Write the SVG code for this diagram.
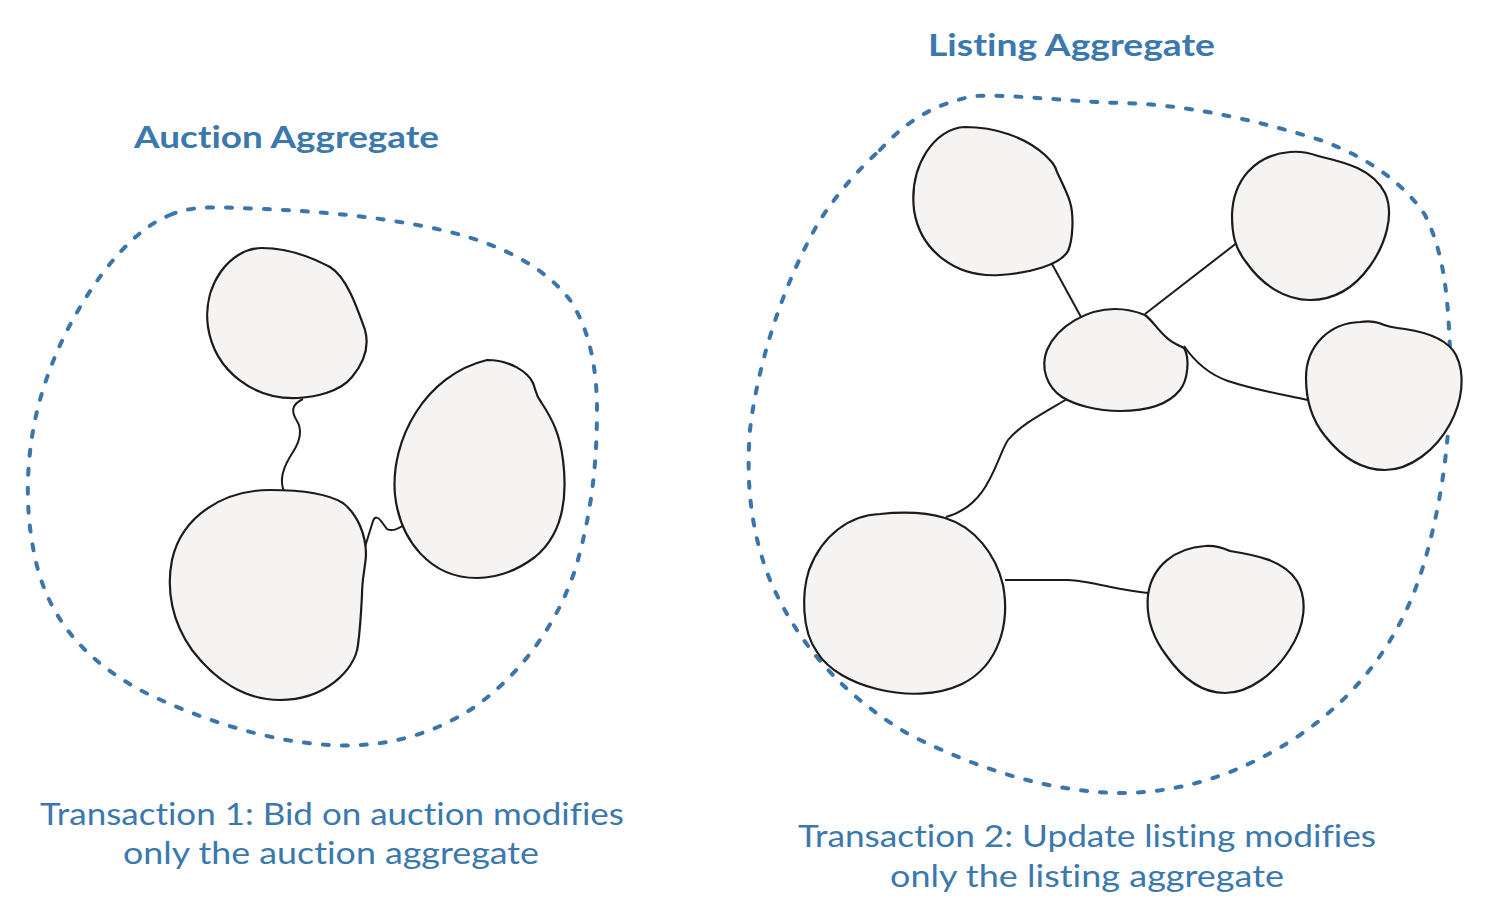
<svg xmlns="http://www.w3.org/2000/svg" width="1499" height="913" viewBox="0 0 1499 913">
<style>
.bound{fill:none;stroke:#3a75ab;stroke-width:4;stroke-dasharray:6 13;stroke-linecap:round}
.ent{fill:#f5f4f2;stroke:#1b1b1b;stroke-width:2.2;stroke-linejoin:round}
.link{fill:none;stroke:#1b1b1b;stroke-width:2}
.title{font-family:Lato,"Open Sans","Liberation Sans",sans-serif;font-weight:bold;font-size:30px;fill:#3b78ae;font-variant-ligatures:none;font-feature-settings:"liga" 0,"clig" 0,"dlig" 0}
.cap{font-family:Lato,"Open Sans","Liberation Sans",sans-serif;font-size:30px;fill:#3b78ae;font-variant-ligatures:none;font-feature-settings:"liga" 0,"clig" 0,"dlig" 0}
</style>
<rect width="1499" height="913" fill="#ffffff"/>

<g id="auction-aggregate">
<path class="bound" d="M 170,215 C 190,206 215,207 240,208 C 300,210 380,215 450,232 C 505,246 545,268 570,300 C 590,330 597,370 597,410 C 597,470 590,520 575,570 C 555,630 515,680 470,710 C 430,735 385,748 330,745 C 270,742 200,720 140,690 C 95,665 55,630 38,570 C 25,520 25,470 35,420 C 48,360 75,310 105,270 C 125,245 145,225 170,215 Z"/>
<text class="title" x="134" y="148" textLength="305" lengthAdjust="spacingAndGlyphs">Auction Aggregate</text>
</g>

<g id="listing-aggregate">
<path class="bound" d="M 880,150 C 905,122 935,103 975,96 C 1010,94 1060,101 1120,103 C 1180,104 1250,118 1320,140 C 1370,158 1405,185 1425,215 C 1445,255 1448,300 1450,350 C 1452,420 1445,490 1425,560 C 1405,630 1365,690 1300,735 C 1240,775 1180,793 1120,793 C 1050,792 980,770 910,735 C 850,700 800,650 770,580 C 750,530 746,480 750,430 C 758,360 785,280 820,220 C 840,190 860,168 880,150 Z"/>
<text class="title" x="928" y="56" textLength="287" lengthAdjust="spacingAndGlyphs">Listing Aggregate</text>
</g>

<g id="connectors">
<path class="link" d="M 303,399 C 290,405 292,413 297,421 C 303,431 300,441 293,452 C 285,464 278,478 284,491"/>
<path class="link" d="M 364,550 L 373,521 C 375,516 378,517 381,521 L 387,529 C 392,532 398,529 404,525"/>
<path class="link" d="M 1052,264 L 1081,317"/>
<path class="link" d="M 1145,314 L 1238,242"/>
<path class="link" d="M 1184,346 C 1195,362 1208,374 1228,381 C 1255,390 1280,394 1308,400"/>
<path class="link" d="M 1067,399 C 1045,412 1020,425 1008,440 C 996,458 990,505 946,517"/>
<path class="link" d="M 1005,580 L 1068,580 C 1092,581 1120,591 1150,593 L 1149,600"/>
</g>

<g id="auction-root">
<path class="ent" d="M 262,248 C 290,248 315,259 330,267 C 347,277 358,310 365,330 C 370,348 362,365 352,377 C 340,392 315,397 298,398 C 255,400 215,372 208,327 C 202,285 230,248 262,248 Z"/>
</g>
<g id="auction-bid">
<path class="ent" d="M 270,490 C 305,490 330,495 343,503 C 358,515 366,535 366,555 C 365,570 362,578 362,595 C 361,615 360,630 358,645 C 355,670 325,700 280,700 C 245,700 215,680 192,650 C 172,622 166,590 172,560 C 182,515 225,490 270,490 Z"/>
</g>
<g id="auction-item">
<path class="ent" d="M 487,360 C 510,360 528,372 533,383 C 536,390 535,394 541,402 C 553,420 560,435 563,460 C 568,500 562,535 535,557 C 515,572 495,578 477,578 C 430,578 400,540 395,495 C 390,440 425,375 487,360 Z"/>
</g>

<g id="listing-n1">
<path class="ent" d="M 965,127 C 995,127 1025,137 1045,155 C 1052,162 1055,165 1057,172 C 1062,183 1067,192 1070,202 C 1074,215 1073,240 1068,251 C 1060,265 1030,273 1000,275 C 955,278 920,250 914,210 C 909,165 935,128 965,127 Z"/>
</g>
<g id="listing-n2">
<path class="ent" d="M 1290,152 C 1300,151 1307,152 1318,156 C 1343,162 1372,168 1385,193 C 1395,215 1385,245 1370,266 C 1355,287 1335,300 1310,300 C 1285,300 1262,285 1246,262 C 1235,248 1232,235 1232,215 C 1233,180 1255,155 1290,152 Z"/>
</g>
<g id="listing-n3">
<path class="ent" d="M 1115,309 C 1130,309 1140,313 1145,315 C 1152,320 1158,330 1166,337 C 1172,343 1178,345 1184,348 C 1190,358 1188,380 1180,390 C 1168,405 1145,411 1120,411 C 1097,411 1075,405 1062,397 C 1047,387 1040,368 1047,350 C 1058,325 1088,309 1115,309 Z"/>
</g>
<g id="listing-n4">
<path class="ent" d="M 1360,322 C 1367,321 1373,321 1379,323 C 1388,327 1395,328 1405,329 C 1425,332 1447,338 1456,355 C 1466,375 1462,402 1450,424 C 1436,450 1410,470 1385,470 C 1360,470 1340,455 1325,436 C 1312,420 1306,400 1306,378 C 1306,345 1330,323 1360,322 Z"/>
</g>
<g id="listing-n5">
<path class="ent" d="M 880,514 C 900,512 925,512 945,518 C 975,527 996,555 1003,585 C 1010,622 1000,665 962,684 C 937,696 905,696 877,689 C 852,683 828,670 817,652 C 801,630 802,592 809,570 C 822,535 850,515 880,514 Z"/>
</g>
<g id="listing-n6">
<path class="ent" d="M 1205,546 C 1214,545 1221,547 1230,551 C 1255,555 1284,560 1297,581 C 1308,600 1305,626 1290,649 C 1275,673 1250,693 1225,693 C 1200,693 1180,675 1166,655 C 1151,635 1146,615 1148,595 C 1152,566 1175,548 1205,546 Z"/>
</g>

<g id="captions">
<text class="cap" x="332" y="825" text-anchor="middle" textLength="584" lengthAdjust="spacingAndGlyphs">Transaction 1: Bid on auction modifies</text>
<text class="cap" x="331" y="864" text-anchor="middle" textLength="416" lengthAdjust="spacingAndGlyphs">only the auction aggregate</text>
<text class="cap" x="1087" y="847" text-anchor="middle" textLength="578" lengthAdjust="spacingAndGlyphs">Transaction 2: Update listing modifies</text>
<text class="cap" x="1087" y="887" text-anchor="middle" textLength="394" lengthAdjust="spacingAndGlyphs">only the listing aggregate</text>
</g>
</svg>
